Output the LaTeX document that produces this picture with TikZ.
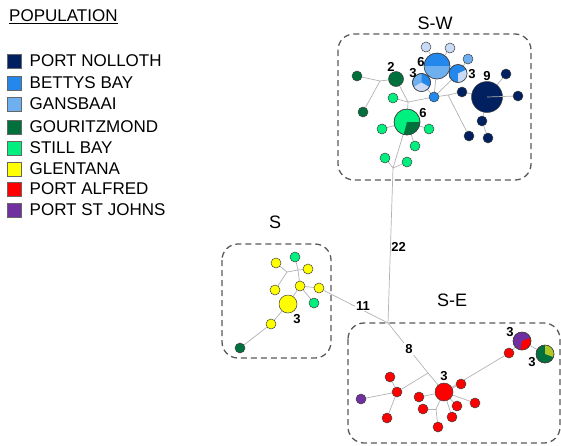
\documentclass[tikz,border=0pt]{standalone}
\usepackage{fontspec}
\setmainfont{Liberation Sans}
\usepackage{tikz}
\usetikzlibrary{calc}
\definecolor{pnolloth}{RGB}{0,32,96}
\definecolor{bettys}{RGB}{35,135,235}
\definecolor{gansbaai}{RGB}{110,175,240}
\definecolor{paleblue}{RGB}{200,218,245}
\definecolor{gouritz}{RGB}{0,112,60}
\definecolor{stillbay}{RGB}{0,240,128}
\definecolor{glentana}{RGB}{255,255,0}
\definecolor{palfred}{RGB}{255,0,0}
\definecolor{pstjohns}{RGB}{112,48,160}
\definecolor{olivemix}{RGB}{175,200,40}
\pgfdeclarelayer{bg}
\pgfsetlayers{bg,main}
% pie slice over a haplotype circle: centre, radius, from, to, colour
\newcommand{\slicefill}[5]{\fill[#5] (#1) -- ++(#3:#2) arc[start angle=#3,end angle=#4,radius=#2] -- cycle;
  \draw[black!75,line width=0.5pt] (#1) circle[radius=#2];}

\begin{document}
\begin{tikzpicture}[x=1pt,y=1pt,
  hap/.style={draw=black!75,line width=0.5pt,shape=circle,inner sep=0pt,minimum size=10pt},
  link/.style={black!30,line width=0.7pt},
  group/.style={draw=black!65,line width=1.3pt,dash pattern=on 6pt off 4pt,rounded corners=16pt},
  num/.style={font=\bfseries\fontsize{13}{13}\selectfont,inner sep=0pt},
  region/.style={font=\fontsize{18}{18}\selectfont,inner sep=0pt},
  legsq/.style={draw=black!60,line width=0.5pt,inner sep=0pt,minimum size=14pt},
  legtxt/.style={anchor=west,inner sep=0pt,font=\fontsize{17}{17}\selectfont}]
  \useasboundingbox (0,0) rectangle (561,-445);
%--------------------------------------------------------------------------------
  \node[anchor=west,inner sep=0pt,font=\fontsize{17}{17}\selectfont] (title) at (9,-17) {\underline{POPULATION}};
  \node[legsq,fill=pnolloth] (sq1) at (14.5,-61) {};
  \node[legsq,fill=bettys] (sq2) at (14.5,-83) {};
  \node[legsq,fill=gansbaai] (sq3) at (14.5,-104) {};
  \node[legsq,fill=gouritz] (sq4) at (14.5,-127) {};
  \node[legsq,fill=stillbay] (sq5) at (14.5,-148) {};
  \node[legsq,fill=glentana] (sq6) at (14.5,-169) {};
  \node[legsq,fill=palfred] (sq7) at (14.5,-189) {};
  \node[legsq,fill=pstjohns] (sq8) at (14.5,-210) {};
  \node[legtxt] (t1) at (29.5,-61) {PORT NOLLOTH};
  \node[legtxt] (t2) at (29.5,-83) {BETTYS BAY};
  \node[legtxt] (t3) at (29.5,-104) {GANSBAAI};
  \node[legtxt] (t4) at (29.5,-127) {GOURITZMOND};
  \node[legtxt] (t5) at (29.5,-148) {STILL BAY};
  \node[legtxt] (t6) at (29.5,-169) {GLENTANA};
  \node[legtxt] (t7) at (29.5,-189) {PORT ALFRED};
  \node[legtxt] (t8) at (29.5,-210) {PORT ST JOHNS};
%--------------------------------------------------------------------------------
  \draw[group] (338,-34) rectangle (531,-180);
  \draw[group] (222,-244) rectangle (331,-358);
  \draw[group] (348,-323) rectangle (560,-443);
  \node[region] (lsw) at (435,-23) {S-W};
  \node[region] (ls) at (275,-222) {S};
  \node[region] (lse) at (452,-300) {S-E};
%-------------------------------------------------------------------------------- S-W
  \node[hap,fill=pnolloth,minimum size=31pt] (nb) at (487,-97) {};
  \node[hap,fill=pnolloth] (n1) at (462,-92) {};
  \node[hap,fill=pnolloth] (n2) at (506,-74) {};
  \node[hap,fill=pnolloth] (n3) at (518,-96) {};
  \node[hap,fill=pnolloth] (n4) at (482,-121) {};
  \node[hap,fill=pnolloth] (n5) at (488,-138) {};
  \node[hap,fill=pnolloth] (n6) at (469,-136) {};
  \node[hap,fill=bettys,minimum size=26pt] (b6) at (437,-66) {};
  \node[hap,fill=gansbaai,minimum size=18pt] (b3l) at (421.5,-82.5) {};
  \node[hap,fill=bettys,minimum size=18pt] (b3r) at (458,-73.5) {};
  \node[hap,fill=bettys] (bs) at (434,-97) {};
  \node[hap,fill=paleblue] (p1) at (426,-47) {};
  \node[hap,fill=paleblue] (p2) at (450,-48) {};
  \node[hap,fill=gansbaai] (g1) at (468,-59) {};
  \node[hap,fill=gouritz,minimum size=15pt] (dg2) at (396,-79) {};
  \node[hap,fill=gouritz] (dg1) at (357,-76) {};
  \node[hap,fill=gouritz] (dg3) at (363,-112) {};
  \node[hap,fill=stillbay] (sg1) at (393,-98) {};
  \node[hap,fill=stillbay,minimum size=26pt] (sg6) at (407,-122) {};
  \node[hap,fill=stillbay] (sg2) at (382,-129) {};
  \node[hap,fill=stillbay] (sg3) at (429,-129) {};
  \node[hap,fill=stillbay] (sg4) at (415,-146) {};
  \node[hap,fill=stillbay] (sg5) at (385,-158) {};
  \node[hap,fill=stillbay] (sg7) at (407,-162) {};
  \slicefill{b6.center}{13}{180}{360}{gansbaai}
  \slicefill{b3l.center}{9}{-30}{90}{bettys}
  \slicefill{b3l.center}{9}{210}{330}{paleblue}
  \slicefill{b3r.center}{9}{-90}{25}{paleblue}
  \slicefill{sg6.center}{13}{-105}{0}{gouritz}
  \coordinate (j1) at (380,-81);
  \coordinate (j2) at (408,-102);
  \coordinate (j4) at (448,-95);
  \coordinate (j5) at (393,-168);
  \coordinate (hub) at (388,-323);
  \begin{pgfonlayer}{bg}
  \draw[link] (dg1) -- (j1) -- (dg3);
  \draw[link] (j1) -- (dg2) -- (j2) -- (bs);
  \draw[link] (sg1) -- (j2) -- (sg6);
  \draw[link] (bs) -- (b3l);
  \draw[link] (bs) -- (b6);
  \draw[link] (bs) -- (b3r);
  \draw[link] (p1) -- (b6) -- (p2);
  \draw[link] (g1) -- (b3r);
  \draw[link] (bs) -- (j4) -- (n1) -- (nb);
  \draw[link] (j4) -- (n6);
  \draw[link] (nb) -- (n2);
  \draw[link] (nb) -- (n4) -- (n5);
  \draw[link] (sg6) -- (sg2);
  \draw[link] (sg6) -- (sg3);
  \draw[link] (sg6) -- (sg4);
  \draw[link] (sg6) -- (j5) -- (sg5);
  \draw[link] (j5) -- (sg7);
  \draw[link] (j5) -- (hub);
  \end{pgfonlayer}
  \draw[link] (nb.center) -- (n3);
  \node[num] (c9) at (487,-76) {9};
  \node[num] (c6a) at (421,-62) {6};
  \node[num] (c3a) at (413,-73) {3};
  \node[num] (c3b) at (472,-74) {3};
  \node[num] (c2) at (391,-67) {2};
  \node[num] (c6b) at (423,-113) {6};
%-------------------------------------------------------------------------------- S
  \node[hap,fill=glentana] (y1) at (276,-263) {};
  \node[hap,fill=stillbay] (sgs1) at (295,-257) {};
  \node[hap,fill=glentana] (y2) at (308,-269) {};
  \node[hap,fill=glentana] (y3) at (275,-290) {};
  \node[hap,fill=glentana] (y4) at (300,-286) {};
  \node[hap,fill=glentana] (y5) at (319,-288) {};
  \node[hap,fill=stillbay] (sgs2) at (314,-303) {};
  \node[hap,fill=glentana,minimum size=18pt] (yb) at (288,-304) {};
  \node[hap,fill=glentana] (y6) at (271,-324) {};
  \node[hap,fill=gouritz] (dgs) at (240,-348) {};
  \coordinate (js1) at (287,-272);
  \coordinate (js2) at (298,-270);
  \begin{pgfonlayer}{bg}
  \draw[link] (y1) -- (js1) -- (y3);
  \draw[link] (js1) -- (js2) -- (sgs1);
  \draw[link] (js2) -- (y2);
  \draw[link] (js2) -- (y4) -- (y5);
  \draw[link] (y4) -- (sgs2);
  \draw[link] (y4) -- (yb) -- (y6) -- (dgs);
  \draw[link] (y5) -- (hub);
  \end{pgfonlayer}
  \node[num] (c3c) at (297,-319) {3};
%-------------------------------------------------------------------------------- S-E
  \node[hap,fill=palfred,minimum size=18pt] (rb) at (444,-392) {};
  \node[hap,fill=palfred] (r1) at (397,-392) {};
  \node[hap,fill=palfred] (r2) at (390,-377) {};
  \node[hap,fill=palfred] (r3) at (387,-418) {};
  \node[hap,fill=pstjohns] (pu) at (361,-399) {};
  \node[hap,fill=palfred] (r4) at (461,-384) {};
  \node[hap,fill=palfred] (r5) at (419,-397) {};
  \node[hap,fill=palfred] (r6) at (457,-406) {};
  \node[hap,fill=palfred] (r7) at (475,-403) {};
  \node[hap,fill=palfred] (r8) at (452,-417) {};
  \node[hap,fill=palfred] (r9) at (438,-427) {};
  \node[hap,fill=palfred] (r10) at (423,-409) {};
  \node[hap,fill=palfred] (r11) at (509,-353) {};
  \node[hap,fill=pstjohns,minimum size=18pt] (pp) at (522,-341) {};
  \node[hap,fill=gouritz,minimum size=18pt] (gp) at (545,-354) {};
  \slicefill{pp.center}{9}{-100}{20}{palfred}
  \slicefill{gp.center}{9}{-20}{90}{olivemix}
  \coordinate (je1) at (428,-373);
  \coordinate (je2) at (436,-409);
  \begin{pgfonlayer}{bg}
  \draw[link] (hub) -- (je1) -- (r1);
  \draw[link] (je1) -- (rb);
  \draw[link] (r1) -- (r2);
  \draw[link] (r1) -- (r3);
  \draw[link] (r1) -- (pu);
  \draw[link] (rb) -- (r4);
  \draw[link] (rb) -- (r5);
  \draw[link] (rb) -- (r6);
  \draw[link] (rb) -- (r7);
  \draw[link] (rb) -- (r8);
  \draw[link] (rb) -- (je2) -- (r9);
  \draw[link] (je2) -- (r10);
  \draw[link] (rb) -- (r11) -- (pp) -- (gp);
  \end{pgfonlayer}
  \node[num] (c3d) at (444,-376) {3};
  \node[num] (c3e) at (510,-332) {3};
  \node[num] (c3f) at (532,-362) {3};
%--------------------------------------------------------------------------------
  \node[num] (c22) at (398.5,-247) {22};
  \node[num,fill=white,inner sep=1pt] (c11) at (363,-306) {11};
  \node[num,fill=white,inner sep=1pt] (c8) at (409,-349) {8};
\end{tikzpicture}
\end{document}
